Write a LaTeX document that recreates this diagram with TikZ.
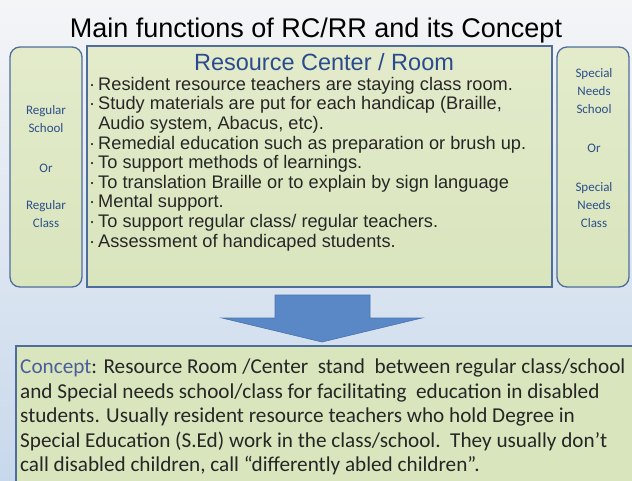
\documentclass[tikz,border=0pt]{standalone}
\usepackage{fontspec}
\setmainfont{Liberation Sans}
\newfontfamily\calibri{Carlito}
\usetikzlibrary{positioning}

\definecolor{bgtop}{HTML}{F4F5F7}
\definecolor{bgmid}{HTML}{DCE5F0}
\definecolor{bgbot}{HTML}{C8D8EC}
\definecolor{boxgreen}{HTML}{D9E5BD}
\definecolor{boxgreenlt}{HTML}{E3EBCB}
\definecolor{boxline}{HTML}{4F6D9C}
\definecolor{headblue}{HTML}{2A4B8D}
\definecolor{sideblue}{HTML}{2C4F8A}
\definecolor{arrowblue}{HTML}{5A87C6}
\definecolor{arrowline}{HTML}{4A74B0}
\definecolor{conceptblue}{HTML}{4B5E9C}
\definecolor{textgray}{HTML}{262626}

\newcommand{\bul}{·\hspace{3pt}}

\tikzset{
  sidebox/.style={draw=boxline, line width=1.3pt, rounded corners=10pt,
    top color=boxgreenlt, bottom color=boxgreen},
  mainbox/.style={draw=boxline, line width=1.3pt,
    top color=boxgreenlt, bottom color=boxgreen},
  sidetext/.style={font=\calibri\fontsize{13}{18}\selectfont, align=center,
    text=sideblue, inner sep=0pt},
}

\begin{document}
\begin{tikzpicture}[x=1pt,y=-1pt]
    \useasboundingbox (0,0) rectangle (632,480);
    % slide background
    \shade[top color=bgtop, middle color=bgmid, bottom color=bgbot] (0,0) rectangle (632,480);

    % title
    \node[font=\fontsize{27}{30}\selectfont, text=black, inner sep=0pt] (title) at (316,31)
        {Main functions of RC/RR and its Concept};

    % the three boxes
    \draw[sidebox] (10,47) rectangle (82,287);
    \draw[mainbox] (87,46) rectangle (552,287);
    \draw[sidebox] (557,47) rectangle (629,287);

    % left box: regular side
    \node[sidetext] (regschool) at (46,119) {Regular\\School};
    \node[sidetext] (regor) at (46,168) {Or};
    \node[sidetext] (regclass) at (46,214) {Regular\\Class};

    % right box: special needs side
    \node[sidetext] (spschool) at (594,91) {Special\\Needs\\School};
    \node[sidetext] (spor) at (594,148) {Or};
    \node[sidetext] (spclass) at (594,205) {Special\\Needs\\Class};

    % center box: functions
    \node[font=\fontsize{23.5}{25}\selectfont, text=headblue, inner sep=0pt] (rchead) at (324,62)
        {Resource Center / Room};
    \node[font=\fontsize{18.2}{19.6}\selectfont, text=textgray, align=left,
          anchor=north west, inner sep=0pt] (rclist) at (89,77)
        {\bul Resident resource teachers are staying class room.\\
         \bul Study materials are put for each handicap (Braille,\\
         \hphantom{\bul}Audio system, Abacus, etc).\\
         \bul Remedial education such as preparation or brush up.\\
         \bul To support methods of learnings.\\
         \bul To translation Braille or to explain by sign language\\
         \bul Mental support.\\
         \bul To support regular class/ regular teachers.\\
         \bul Assessment of handicaped students.};

    % big arrow down
    \fill[arrowblue, draw=arrowline, line width=0.6pt]
        (275,295) -- (370,295) -- (370,318) -- (422,318) -- (322,342)
        -- (222,318) -- (275,318) -- cycle;

    % concept box
    \fill[boxgreen] (16,346) rectangle (640,490);
    \draw[boxline, line width=1.3pt] (640,346) -- (16,346) -- (16,490);
    \node[font=\calibri\fontsize{21.2}{24.5}\selectfont, text=textgray, align=left,
          anchor=north west, inner sep=0pt] (concept) at (20,359)
        {\textcolor{conceptblue}{Concept}: Resource Room /Center\ \ stand\ \ between regular class/school\\
         and Special needs school/class for facilitating\ \ education in disabled\\
         students. Usually resident resource teachers who hold Degree in\\
         Special Education (S.Ed) work in the class/school.\ \ They usually don’t\\
         call disabled children, call “differently abled children”.};
\end{tikzpicture}
\end{document}
